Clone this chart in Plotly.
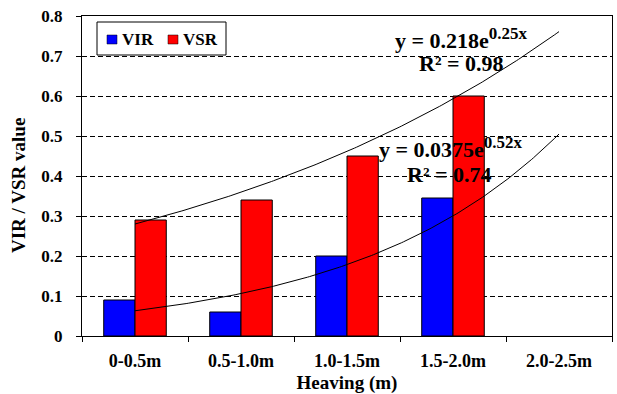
import numpy as np
import plotly.graph_objects as go

# Heaving classes and measured indices
categories = ["0-0.5m", "0.5-1.0m", "1.0-1.5m", "1.5-2.0m", "2.0-2.5m"]
vir_values = [0.09, 0.06, 0.20, 0.345, None]
vsr_values = [0.29, 0.34, 0.45, 0.60, None]

# Exponential trend fits y = a * exp(b * x), x = class number (1..5)
vsr_fit = {"a": 0.218, "b": 0.25, "r2": 0.98}
vir_fit = {"a": 0.0375, "b": 0.52, "r2": 0.74}

FONT = "'Liberation Serif', 'Times New Roman', Times, serif"
BLUE = "#0000FF"
RED = "#FF0000"

# plot-area geometry in pixels (used for the hand-placed legend and y title)
W, H = 617, 394
ML, MR, MT, MB = 82, 5, 16, 58
PW, PH = W - ML - MR, H - MT - MB


def px_x(px):
    return (px - ML) / PW


def px_y(py):
    return (H - MB - py) / PH


pos = list(range(len(categories)))

fig = go.Figure()
fig.add_trace(go.Bar(
    x=pos, y=vir_values, name="VIR",
    marker=dict(color=BLUE, line=dict(color="#000000", width=1)),
))
fig.add_trace(go.Bar(
    x=pos, y=vsr_values, name="VSR",
    marker=dict(color=RED, line=dict(color="#000000", width=1)),
))

# Trend curves evaluated from the fitted equations over classes 1..5
xs = np.linspace(1, len(categories), 200)
for fit in (vsr_fit, vir_fit):
    fig.add_trace(go.Scatter(
        x=xs - 1, y=fit["a"] * np.exp(fit["b"] * xs),
        mode="lines", line=dict(color="#000000", width=1),
        showlegend=False, hoverinfo="skip",
    ))


def eq_text(fit):
    return ('<b>y = %se<sup><span style="font-size:17px">%sx</span></sup></b>'
            % (fit["a"], fit["b"]))


annos = [
    (3.08, 0.744, eq_text(vsr_fit)),
    (3.08, 0.682, "<b>R² = %.2f</b>" % vsr_fit["r2"]),
    (2.98, 0.471, eq_text(vir_fit)),
    (2.97, 0.403, "<b>R² = %.2f</b>" % vir_fit["r2"]),
]
for x, y, t in annos:
    fig.add_annotation(
        x=x, y=y, xref="x", yref="y", text=t, showarrow=False,
        font=dict(family=FONT, size=22, color="#000000"),
    )

# Y axis title
fig.add_annotation(
    x=px_x(18), y=px_y(186), xref="paper", yref="paper",
    text="<b>VIR / VSR value</b>", textangle=-90, showarrow=False,
    xanchor="center", yanchor="middle",
    font=dict(family=FONT, size=19, color="#000000"),
)

# Legend: framed box with two colour keys
shapes = [
    dict(type="rect", xref="paper", yref="paper",
         x0=px_x(97), x1=px_x(226), y0=px_y(55), y1=px_y(22),
         line=dict(color="#000000", width=1), fillcolor="#FFFFFF", layer="above"),
]
legend_items = [("VIR", BLUE, 107), ("VSR", RED, 168)]
for label, color, x0 in legend_items:
    shapes.append(dict(type="rect", xref="paper", yref="paper",
                       x0=px_x(x0), x1=px_x(x0 + 10), y0=px_y(44), y1=px_y(35),
                       line=dict(color="#000000", width=0.5), fillcolor=color,
                       layer="above"))
    fig.add_annotation(
        x=px_x(x0 + 13), y=px_y(39.5), xref="paper", yref="paper",
        xanchor="left", yanchor="middle", text="<b>%s</b>" % label, showarrow=False,
        font=dict(family=FONT, size=17, color="#000000"),
    )

fig.update_layout(
    width=W, height=H,
    margin=dict(l=ML, r=MR, t=MT, b=MB),
    paper_bgcolor="#FFFFFF", plot_bgcolor="#FFFFFF",
    barmode="group", bargap=0.41, bargroupgap=0,
    font=dict(family=FONT, color="#000000"),
    showlegend=False,
    shapes=shapes,
)

fig.update_xaxes(
    range=[-0.5, len(categories) - 0.5],
    tickmode="array", tickvals=pos, ticktext=["<b>%s</b>" % c for c in categories],
    ticks="", ticklabelstandoff=8,
    tickfont=dict(family=FONT, size=18, color="#000000"),
    showline=True, linecolor="#000000", linewidth=1, mirror=True,
    showgrid=False, zeroline=False,
    minor=dict(tickmode="linear", tick0=-0.5, dtick=1, ticks="outside",
               ticklen=5, tickcolor="#000000", tickwidth=1, showgrid=False),
    title=dict(text="<b>Heaving (m)</b>", standoff=6,
               font=dict(family=FONT, size=19, color="#000000")),
)
fig.update_yaxes(
    range=[0, 0.8], dtick=0.1, tickformat=".1~f",
    tickfont=dict(family=FONT, size=17, color="#000000", weight="bold"),
    ticks="outside", ticklen=5, tickcolor="#000000", ticklabelstandoff=10,
    showline=True, linecolor="#000000", linewidth=1, mirror=True,
    showgrid=True, gridcolor="#000000", gridwidth=1, griddash="5px,3px",
    zeroline=False,
)

fig.write_html("out.html")
